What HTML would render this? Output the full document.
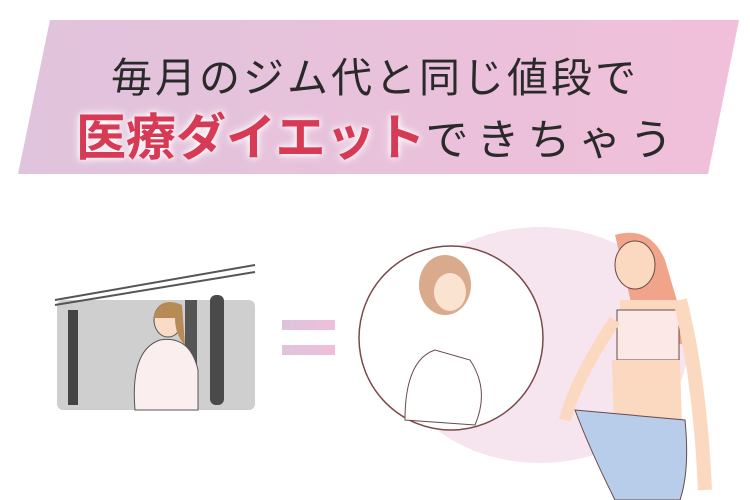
<!DOCTYPE html>
<html><head><meta charset="utf-8"><style>
body{margin:0;width:750px;height:500px;background:#fff;overflow:hidden;position:relative;font-family:"Liberation Sans","Noto Sans CJK JP",sans-serif}
.l1{position:absolute;left:0;width:750px;top:44px;text-align:center;font-size:41px;color:#2a2a2a;letter-spacing:3px}
.l2{position:absolute;left:76px;top:98px;white-space:nowrap}
.red{font-size:50px;font-weight:bold;color:#d63a55;text-shadow:0 0 6px #fff,0 0 10px #fff;letter-spacing:0px}
.blk{font-size:43px;color:#2a2a2a;letter-spacing:8px}
</style></head><body>
<svg width="750" height="500" style="position:absolute;left:0;top:0">
<defs><linearGradient id="g" x1="0" x2="1"><stop offset="0" stop-color="#e0c3dc"/><stop offset="1" stop-color="#f1bfd9"/></linearGradient>
<linearGradient id="e" x1="0" x2="1"><stop offset="0" stop-color="#dcc4dc"/><stop offset="1" stop-color="#f0bedb"/></linearGradient></defs>
<polygon points="50,20 739,20 708,174 18,174" fill="url(#g)"/>
<rect x="57" y="300" width="198" height="110" rx="6" fill="#cfcfcf"/>
<line x1="55" y1="300" x2="255" y2="265" stroke="#555" stroke-width="2"/>
<line x1="55" y1="305" x2="255" y2="272" stroke="#555" stroke-width="2"/>
<rect x="68" y="310" width="10" height="95" fill="#444"/>
<rect x="210" y="295" width="14" height="110" rx="6" fill="#4a4a4a"/>
<rect x="185" y="300" width="12" height="110" fill="#555"/>
<path d="M135 410 Q130 350 160 340 Q190 335 198 370 L198 410Z" fill="#fbeeee" stroke="#555"/>
<ellipse cx="168" cy="320" rx="14" ry="17" fill="#f8dcc8" stroke="#555"/>
<path d="M153 318 Q160 295 182 305 L185 345 Q175 335 175 318Z" fill="#b88a55"/>
<rect x="282" y="320" width="53" height="10" fill="url(#e)"/>
<rect x="282" y="345" width="53" height="10" fill="url(#e)"/>
<ellipse cx="540" cy="345" rx="148" ry="118" fill="#f6e4ef"/>
<circle cx="451" cy="338" r="92" fill="#fff" stroke="#7a4a4a" stroke-width="1.5"/>
<path d="M405 420 Q405 360 435 350 L470 360 Q490 390 475 425 Z" fill="#fff" stroke="#6a4a4a"/>
<ellipse cx="445" cy="285" rx="26" ry="30" fill="#d9aa8c"/>
<ellipse cx="450" cy="292" rx="16" ry="19" fill="#fbe3d2"/>
<path d="M615 235 Q650 225 665 260 L690 345 L640 340 Z" fill="#f0a48a"/>
<ellipse cx="635" cy="265" rx="20" ry="24" fill="#fbd9c0" stroke="#6a4a4a"/>
<path d="M620 300 L678 300 L680 360 L620 360 Z" fill="#fbd9c0"/>
<rect x="617" y="310" width="62" height="50" fill="#fce9e7" stroke="#6a4a4a"/>
<path d="M612 360 L680 360 L682 425 L614 425Z" fill="#fbd9c0"/>
<path d="M575 410 L685 420 Q690 470 680 500 L615 500 Q590 450 575 410Z" fill="#b7cde9" stroke="#6a4a4a"/>
<path d="M680 300 Q700 380 705 490" stroke="#fbd9c0" stroke-width="14" fill="none"/>
<path d="M615 320 Q575 380 565 420" stroke="#fbd9c0" stroke-width="12" fill="none"/>
</svg>
<div class="l1">毎月のジム代と同じ値段で</div>
<div class="l2"><span class="red">医療ダイエット</span><span class="blk">できちゃう</span></div>
</body></html>
